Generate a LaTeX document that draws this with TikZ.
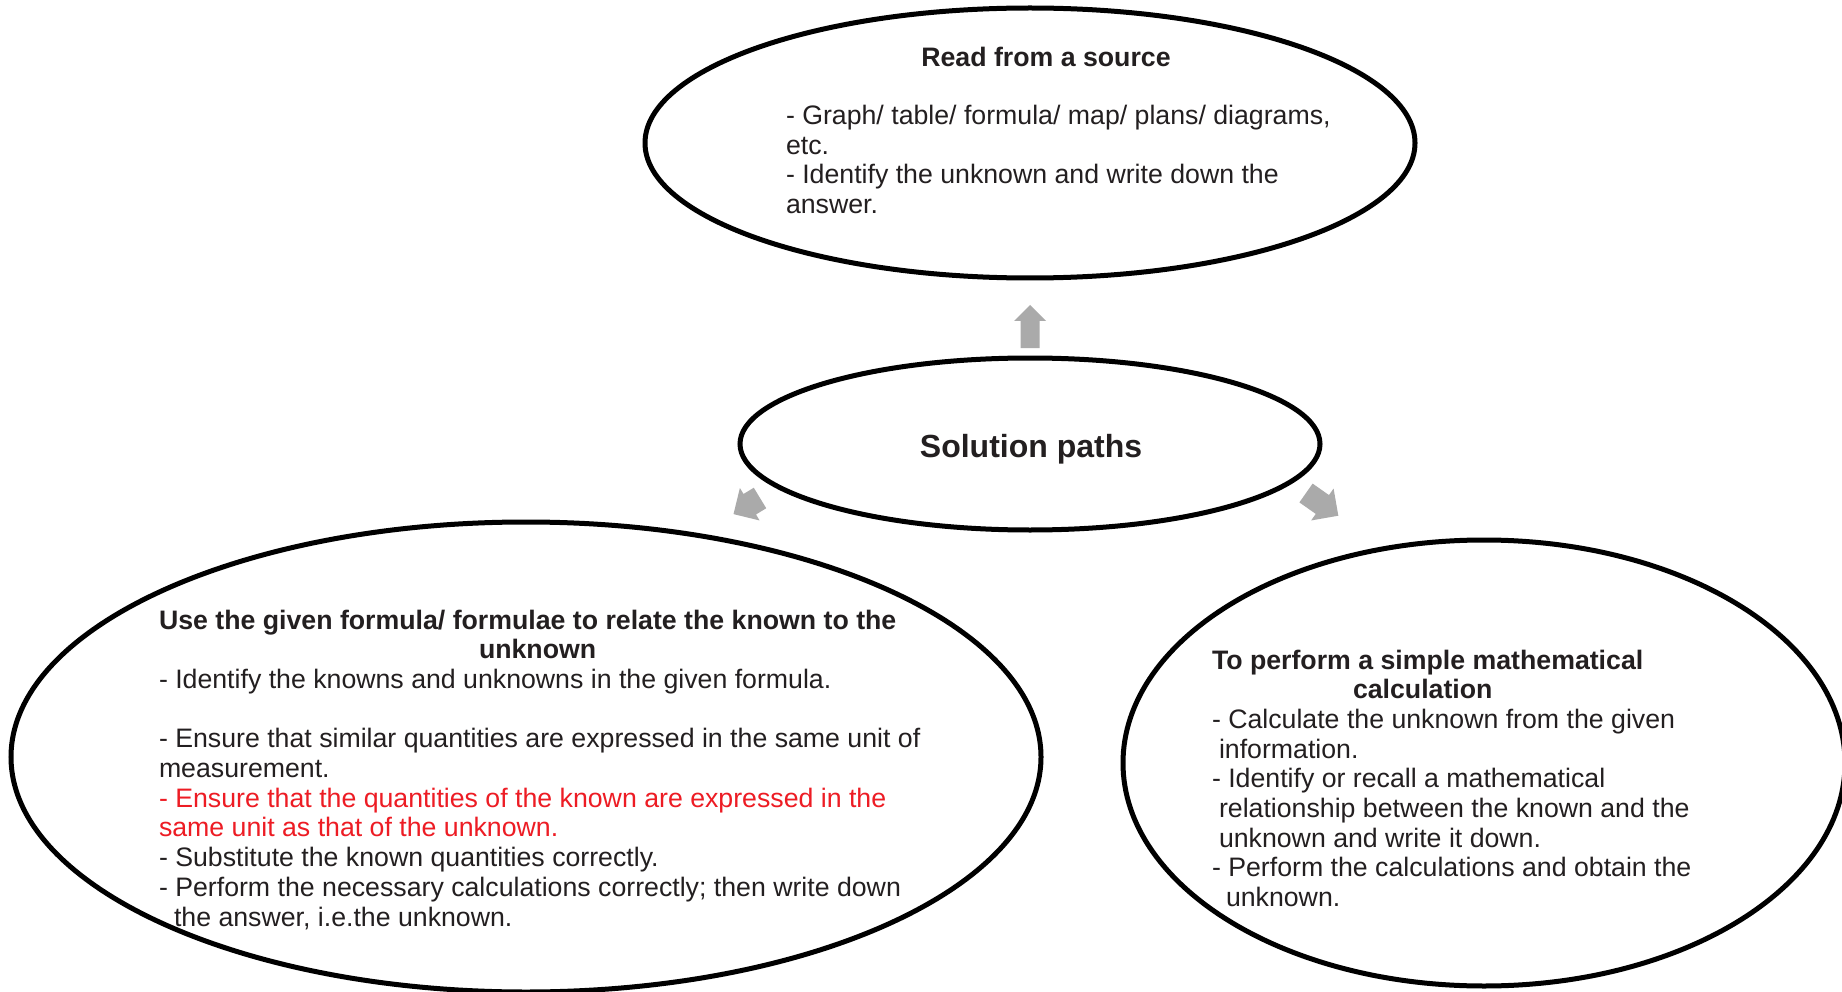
\documentclass[tikz,border=0pt]{standalone}
\usepackage{fontspec}
\setmainfont{Liberation Sans}
\usetikzlibrary{shapes.geometric}
\definecolor{ink}{HTML}{231F20}
\definecolor{redtext}{HTML}{ED1C24}
\definecolor{arrowgray}{RGB}{170,170,170}
\newcommand\bodyfont{\fontsize{26.7}{29.7}\selectfont}
\newcommand\bigfont{\fontsize{32}{38}\selectfont\bfseries}
% tail x, tail y, angle, length, head length, shaft width, head width
\newcommand\blockarrow[7]{%
  \fill[arrowgray, shift={(#1,#2)}, rotate=#3]
    (0,-#6/2) -- (#4-#5,-#6/2) -- (#4-#5,-#7/2) -- (#4,0) --
    (#4-#5,#7/2) -- (#4-#5,#6/2) -- (0,#6/2) -- cycle;}
\begin{document}
\begin{tikzpicture}[x=1pt,y=-1pt,
  ell/.style={ellipse, draw=black, line width=5pt, inner sep=0pt, outer sep=0pt},
  txt/.style={inner sep=0pt, outer sep=0pt, anchor=base west, text=ink, font=\bodyfont},
  ttl/.style={inner sep=0pt, outer sep=0pt, anchor=base, text=ink, font=\bodyfont\bfseries}]
\path[use as bounding box, fill=white] (0,0) rectangle (1842,992);

% ellipses
\node[ell, minimum width=770pt, minimum height=270pt] (read) at (1030,143) {};
\node[ell, minimum width=580pt, minimum height=172pt] (sol) at (1030,444) {};
\node[ell, minimum width=1030pt, minimum height=470pt] (formula) at (526,757) {};
\node[ell, minimum width=722pt, minimum height=446pt] (calc) at (1484,763) {};

% arrows
\blockarrow{1030}{348}{90}{43}{16}{19}{32}
\blockarrow{760}{498}{211.3}{31}{19}{24}{38}
\blockarrow{1306}{493}{-35.1}{39.5}{19.5}{23}{39}

% texts
\node[ttl] (readtitle) at (1046,67) {Read from a source};
\node[txt, font=\fontsize{26.7}{29.4}\selectfont] (readbody) at (786,125) {\begin{tabular}[t]{@{}l@{}}
- Graph/ table/ formula/ map/ plans/ diagrams,\\
etc.\\
- Identify the unknown and write down the\\
answer.
\end{tabular}};

\node[inner sep=0pt, anchor=base, text=ink, font=\bigfont] (soltext) at (1031,457) {Solution paths};

\node[txt] (formulatext) at (159,629) {\begin{tabular}[t]{@{}l@{}}
\textbf{Use the given formula/ formulae to relate the known to the}\\
\hspace*{320pt}\textbf{unknown}\\
- Identify the knowns and unknowns in the given formula.\\
\\
- Ensure that similar quantities are expressed in the same unit of\\
measurement.\\
\textcolor{redtext}{- Ensure that the quantities of the known are expressed in the}\\
\textcolor{redtext}{same unit as that of the unknown.}\\
- Substitute the known quantities correctly.\\
- Perform the necessary calculations correctly; then write down\\
\hspace*{15pt}the answer, i.e.the unknown.
\end{tabular}};

\node[txt] (calctext) at (1212,669) {\begin{tabular}[t]{@{}l@{}}
\textbf{To perform a simple mathematical}\\
\hspace*{141pt}\textbf{calculation}\\
- Calculate the unknown from the given\\
\hspace*{7pt}information.\\
- Identify or recall a mathematical\\
\hspace*{7pt}relationship between the known and the\\
\hspace*{7pt}unknown and write it down.\\
- Perform the calculations and obtain the\\
\hspace*{14pt}unknown.
\end{tabular}};
\end{tikzpicture}
\end{document}
